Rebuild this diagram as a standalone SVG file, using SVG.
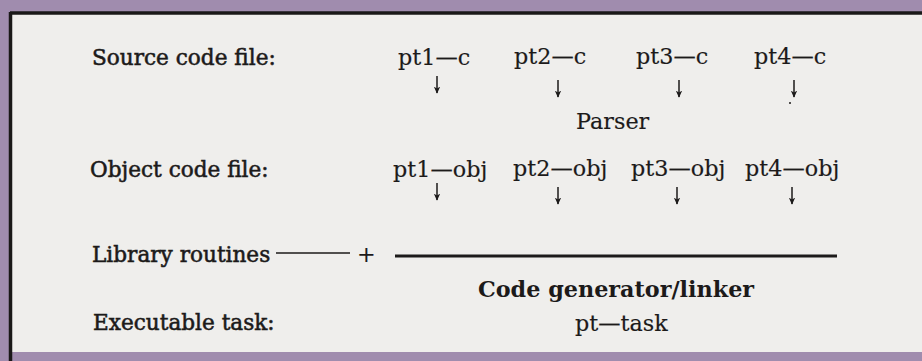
<svg xmlns="http://www.w3.org/2000/svg" width="922" height="361" viewBox="0 0 922 361">
<style>
.lbl{font-family:"DejaVu Serif","Liberation Serif",serif;font-size:21.6px;fill:#1c1a1a;stroke:#1c1a1a;stroke-width:0.55}
.pt{font-family:"DejaVu Serif","Liberation Serif",serif;font-size:22.3px;fill:#1c1a1a;stroke:#1c1a1a;stroke-width:0.15}
.bold{font-family:"DejaVu Serif","Liberation Serif",serif;font-size:22.3px;font-weight:bold;fill:#1c1a1a}
.arr{stroke:#1c1a1a;stroke-width:1.5;fill:none;marker-end:url(#ah)}
.rule{stroke:#1c1a1a;fill:none}
</style>
<defs>
<marker id="ah" viewBox="0 0 10 10" refX="9" refY="5" markerWidth="7" markerHeight="7" orient="auto" markerUnits="userSpaceOnUse">
<path d="M0,0.5 L10,5 L0,9.5 L2.5,5 Z" fill="#1c1a1a"/>
</marker>
</defs>
<rect x="0" y="0" width="922" height="361" fill="#a08cae"/>
<rect x="10" y="12" width="912" height="340" fill="#efeeec"/>
<line x1="10" y1="13" x2="922" y2="13" stroke="#1a1818" stroke-width="3.5"/>
<line x1="10.5" y1="12" x2="10.5" y2="361" stroke="#1a1818" stroke-width="3.5"/>

<g id="source-label"><text class="lbl" x="92" y="65">Source code file:</text></g>
<g id="pt1-c"><text class="pt" x="398" y="65">pt1—c</text></g>
<g id="pt2-c"><text class="pt" x="514" y="64">pt2—c</text></g>
<g id="pt3-c"><text class="pt" x="636" y="64">pt3—c</text></g>
<g id="pt4-c"><text class="pt" x="754" y="64">pt4—c</text></g>
<g id="parser"><text class="pt" x="576" y="129">Parser</text></g>
<g id="object-label"><text class="lbl" x="90" y="177">Object code file:</text></g>
<g id="pt1-obj"><text class="pt" x="393" y="177">pt1—obj</text></g>
<g id="pt2-obj"><text class="pt" x="513" y="176">pt2—obj</text></g>
<g id="pt3-obj"><text class="pt" x="631" y="176">pt3—obj</text></g>
<g id="pt4-obj"><text class="pt" x="745" y="176">pt4—obj</text></g>
<g id="library"><text class="lbl" x="92" y="262">Library routines</text><text class="pt" x="357" y="262">+</text></g>
<g id="codegen"><text class="bold" x="478" y="297">Code generator/linker</text></g>
<g id="exec-label"><text class="lbl" x="93" y="330">Executable task:</text></g>
<g id="pt-task"><text class="pt" x="575" y="331">pt—task</text></g>

<g id="connectors">
<line class="arr" x1="437" y1="76" x2="437" y2="93"/>
<line class="arr" x1="558" y1="80" x2="558" y2="97"/>
<line class="arr" x1="679" y1="80" x2="679" y2="97"/>
<line class="arr" x1="794" y1="80" x2="794" y2="97"/>
<circle cx="790" cy="103" r="1" fill="#1c1a1a"/>
<line class="arr" x1="437" y1="183" x2="437" y2="200"/>
<line class="arr" x1="558" y1="187" x2="558" y2="204"/>
<line class="arr" x1="677" y1="187" x2="677" y2="204"/>
<line class="arr" x1="792" y1="187" x2="792" y2="204"/>
<line class="rule" x1="276" y1="253" x2="350" y2="253" stroke-width="1.5"/>
<line class="rule" x1="395" y1="256" x2="837" y2="256" stroke-width="3"/>
</g>
</svg>
